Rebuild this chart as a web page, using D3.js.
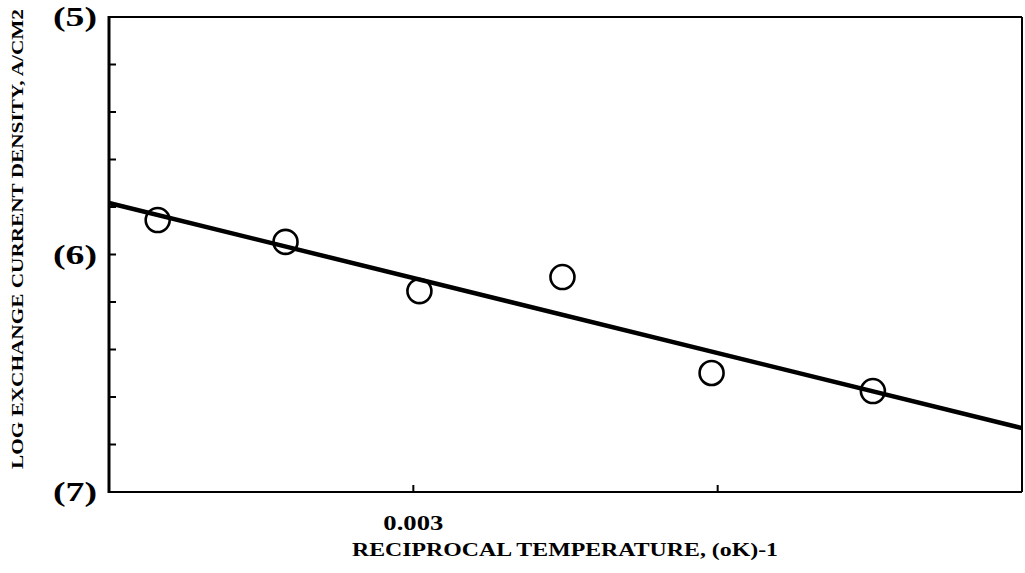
<!DOCTYPE html>
<html><head><meta charset="utf-8">
<script src="https://cdn.jsdelivr.net/npm/d3@7/dist/d3.min.js"></script>
<style>body{margin:0;background:#fff}svg{display:block}</style>
</head><body>
<svg id="c" width="1025" height="573"></svg>
<script>
// Data (reciprocal temperature, 1/K ; log exchange current density)
const recipTemp = [0.002916, 0.002958, 0.003002, 0.003049, 0.003098, 0.003151];
const logDensity = [-5.855, -5.947, -6.154, -6.095, -6.499, -6.575];
const fitX = [0.0029, 0.0032];
const fitY = [-5.783, -6.731];
const xTicks = [0.0029, 0.003, 0.0031, 0.0032];
const xTickLabels = ["", "0.003", "", ""];
const yMajor = [-5, -6, -7];
const yMajorLabels = ["(5)", "(6)", "(7)"];
const yMinor = [-5.2, -5.4, -5.6, -5.8, -6.2, -6.4, -6.6, -6.8];

const L = 109, T = 17, R = 1022, B = 492;
const svg = d3.select("#c");
const x = d3.scaleLinear().domain([0.0029, 0.0032]).range([L, R]);
const y = d3.scaleLinear().domain([-5, -7]).range([T, B]);
const font = "'Liberation Serif', 'DejaVu Serif', serif";

// frame
svg.append("line").attr("x1", L).attr("x2", R).attr("y1", T).attr("y2", T).attr("stroke", "#000").attr("stroke-width", 2);
svg.append("line").attr("x1", R).attr("x2", R).attr("y1", T).attr("y2", B).attr("stroke", "#000").attr("stroke-width", 2);
svg.append("line").attr("x1", L).attr("x2", R).attr("y1", B).attr("y2", B).attr("stroke", "#000").attr("stroke-width", 2.2);
svg.append("line").attr("x1", L).attr("x2", L).attr("y1", T - 1).attr("y2", B + 1).attr("stroke", "#000").attr("stroke-width", 3);

// x ticks (inward)
svg.append("g").selectAll("line").data(xTicks.slice(1, -1)).join("line")
  .attr("x1", d => x(d)).attr("x2", d => x(d)).attr("y1", B).attr("y2", B - 7)
  .attr("stroke", "#000").attr("stroke-width", 2);
svg.append("g").selectAll("text").data(xTicks.filter((d, i) => xTickLabels[i])).join("text")
  .attr("x", d => x(d)).attr("y", 530).attr("text-anchor", "middle")
  .attr("font-family", font).attr("font-weight", "bold").attr("font-size", 20)
  .attr("textLength", 60).attr("lengthAdjust", "spacingAndGlyphs")
  .text(d => xTickLabels[xTicks.indexOf(d)]);

// y ticks (inward)
svg.append("g").selectAll("line").data(yMinor.concat([-6])).join("line")
  .attr("x1", L).attr("x2", L + 7).attr("y1", d => y(d)).attr("y2", d => y(d))
  .attr("stroke", "#000").attr("stroke-width", 2);
svg.append("g").selectAll("text").data(yMajor).join("text")
  .attr("x", 97).attr("y", d => y(d) + 9).attr("text-anchor", "end")
  .attr("font-family", font).attr("font-weight", "bold").attr("font-size", 28)
  .attr("textLength", 44).attr("lengthAdjust", "spacingAndGlyphs")
  .text((d, i) => yMajorLabels[i]);

// fit line
svg.append("path")
  .attr("d", d3.line().x(d => x(d[0])).y(d => y(d[1]))(fitX.map((v, i) => [v, fitY[i]])))
  .attr("fill", "none").attr("stroke", "#000").attr("stroke-width", 4.5);

// data points
svg.append("g").selectAll("circle").data(recipTemp).join("circle")
  .attr("cx", d => x(d)).attr("cy", (d, i) => y(logDensity[i])).attr("r", 12)
  .attr("fill", "none").attr("stroke", "#000").attr("stroke-width", 2.6);

// axis titles
svg.append("text").attr("x", 565).attr("y", 556).attr("text-anchor", "middle")
  .attr("font-family", font).attr("font-weight", "bold").attr("font-size", 18)
  .attr("textLength", 426).attr("lengthAdjust", "spacingAndGlyphs")
  .text("RECIPROCAL TEMPERATURE, (oK)-1");
svg.append("text").attr("transform", "translate(23,239) rotate(-90)").attr("text-anchor", "middle")
  .attr("font-family", font).attr("font-weight", "bold").attr("font-size", 16)
  .attr("textLength", 460).attr("lengthAdjust", "spacingAndGlyphs")
  .text("LOG EXCHANGE CURRENT DENSITY, A/CM2");
</script>
</body></html>
